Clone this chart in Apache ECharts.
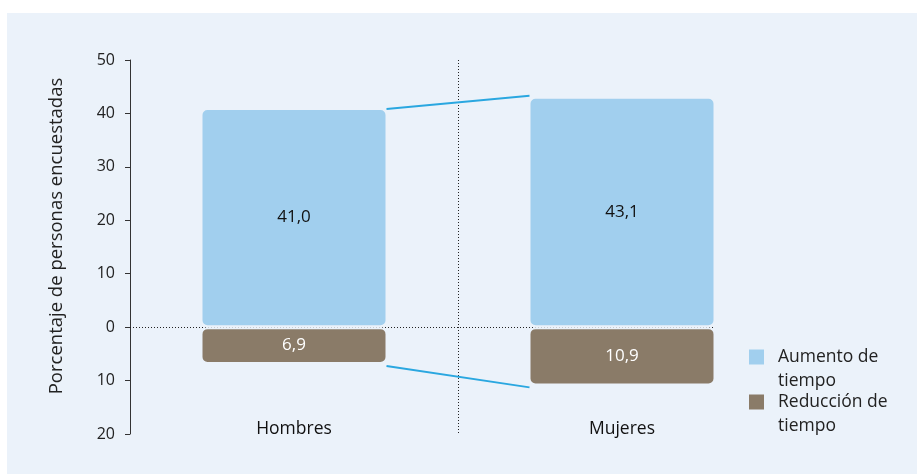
<!DOCTYPE html>
<html>
<head>
<meta charset="utf-8">
<script src="https://cdn.jsdelivr.net/npm/echarts@6/dist/echarts.min.js"></script>
<style>
  html, body { margin: 0; padding: 0; background: #ffffff; }
  #bg { position: absolute; left: 7px; top: 13px; width: 910px; height: 461px; background: #ebf2fa; }
  #chart { position: absolute; left: 0; top: 0; width: 917px; height: 474px; }
</style>
</head>
<body>
<div id="bg"></div>
<div id="chart"></div>
<script>
// ---- data ----
const categories = ['Hombres', 'Mujeres'];
const aumento = [41.0, 43.1];      // Aumento de tiempo (%)
const reduccion = [6.9, 10.9];     // Reducción de tiempo (%), drawn below 0
const seriesNames = ['Aumento de tiempo', 'Reducción de tiempo'];
const legendLabels = ['Aumento de\ntiempo', 'Reducción de\ntiempo'];
const yMin = -20, yMax = 50, yStep = 10;
const yAxisTitle = 'Porcentaje de personas encuestadas';

// ---- style ----
const FONT = 'Open Sans';
const BG = '#ebf2fa';
const BLUE = '#a1cfee';
const BROWN = '#8a7b68';
const LINK = '#2aa7e0';
const BAR_W = 187;

const fmt = v => Math.abs(v).toFixed(1).replace('.', ',');

const chart = echarts.init(document.getElementById('chart'), null, { renderer: 'canvas' });

chart.setOption({
  animation: false,
  textStyle: { fontFamily: FONT },
  grid: { left: 130, right: 131, top: 60, bottom: 40 },
  legend: {
    orient: 'vertical',
    left: 744,
    top: 340,
    itemWidth: 24,
    itemHeight: 39,
    itemGap: -3,
    icon: 'path://M0,0H15V15H0ZM0,39H24',
    itemStyle: { borderWidth: 0 },
    data: seriesNames,
    formatter: name => legendLabels[seriesNames.indexOf(name)],
    textStyle: { fontFamily: FONT, fontSize: 17.5, color: '#222', lineHeight: 24 }
  },
  xAxis: {
    type: 'category',
    data: categories,
    axisLine: { show: false },
    axisTick: { show: false },
    splitLine: { show: false },
    axisLabel: { fontFamily: FONT, fontSize: 17.5, color: '#111', margin: -14 }
  },
  yAxis: {
    type: 'value',
    min: yMin, max: yMax, interval: yStep,
    name: yAxisTitle,
    nameLocation: 'middle',
    nameGap: 64,
    nameTextStyle: { fontFamily: FONT, fontSize: 18.5, color: '#222', padding: [0, 0, 0, 22] },
    axisLine: { show: true, lineStyle: { color: '#333', width: 1 } },
    axisTick: { show: true, length: 5, lineStyle: { color: '#333' } },
    splitLine: { show: false },
    axisLabel: { fontFamily: FONT, fontSize: 16, color: '#222', margin: 15, formatter: v => String(Math.abs(v)) }
  },
  series: [
    {
      type: 'custom',
      z: 1,
      silent: true,
      data: [[0, 0]],
      renderItem: function (params, api) {
        const cs = params.coordSys;
        const half = BAR_W / 2 - 1;
        const t0 = api.coord([0, aumento[0]]);
        const t1 = api.coord([1, aumento[1]]);
        const b0 = api.coord([0, -reduccion[0]]);
        const b1 = api.coord([1, -reduccion[1]]);
        const z0 = api.coord([0, 0]);
        const midX = Math.round((t0[0] + t1[0]) / 2) + 0.5;
        const zy = Math.round(z0[1]) + 0.5;
        const dotted = { stroke: '#222', lineWidth: 1, lineDash: [1, 2] };
        return {
          type: 'group',
          children: [
            { type: 'line', shape: { x1: cs.x, y1: zy, x2: t1[0] + half, y2: zy }, style: dotted },
            { type: 'line', shape: { x1: midX, y1: cs.y, x2: midX, y2: cs.y + cs.height }, style: dotted },
            { type: 'line', z2: 10, shape: { x1: t0[0] + half, y1: t0[1] + 1, x2: t1[0] - half, y2: t1[1] - 1 }, style: { stroke: LINK, lineWidth: 2 } },
            { type: 'line', z2: 10, shape: { x1: b0[0] + half, y1: b0[1] + 2, x2: b1[0] - half, y2: b1[1] + 2 }, style: { stroke: LINK, lineWidth: 2 } }
          ]
        };
      }
    },
    {
      name: seriesNames[0],
      type: 'bar',
      stack: 'total',
      z: 2,
      barWidth: BAR_W,
      data: aumento,
      itemStyle: { color: BLUE, borderRadius: 6, borderColor: BG, borderWidth: 2 },
      label: { show: true, position: 'inside', fontFamily: FONT, fontSize: 17, color: '#111', formatter: p => fmt(p.value) }
    },
    {
      name: seriesNames[1],
      type: 'bar',
      stack: 'total',
      z: 2,
      barWidth: BAR_W,
      data: reduccion.map(v => -v),
      itemStyle: { color: BROWN, borderRadius: 6, borderColor: BG, borderWidth: 2 },
      label: { show: true, position: 'inside', fontFamily: FONT, fontSize: 17, color: '#ffffff', formatter: p => fmt(p.value) }
    }
  ]
});
</script>
</body>
</html>
